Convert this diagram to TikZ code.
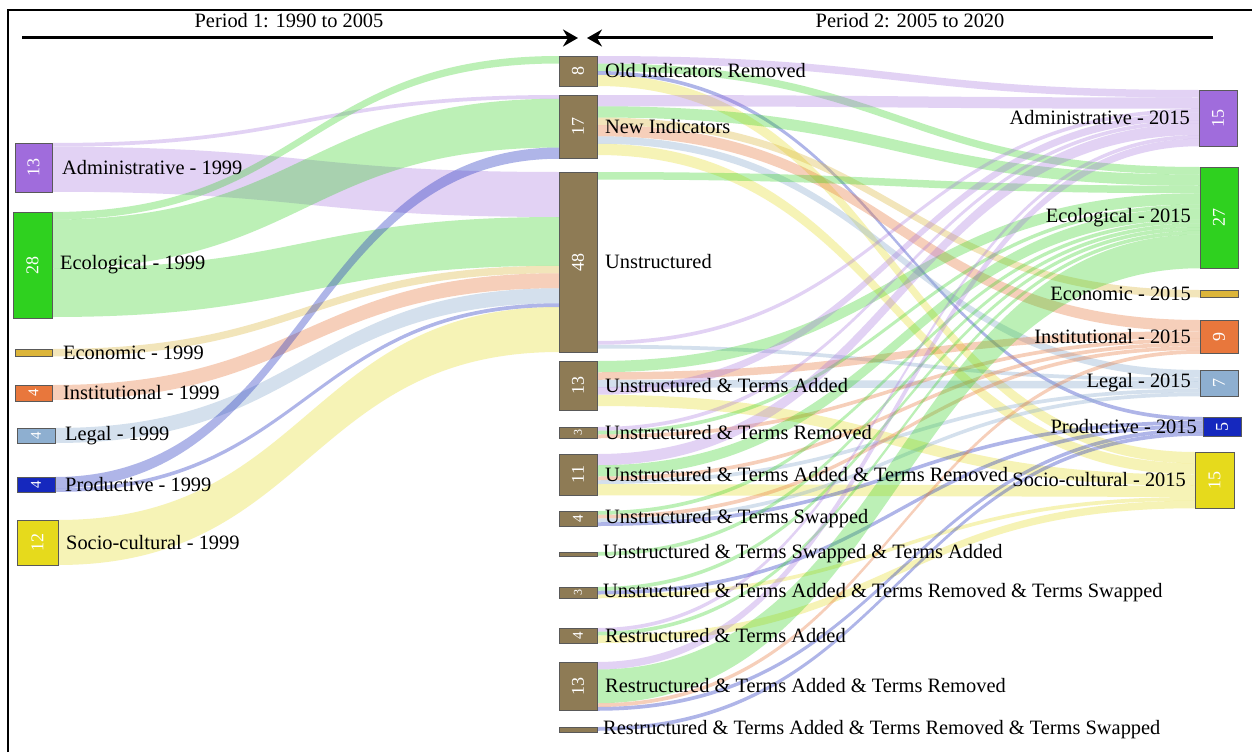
\documentclass[tikz,border=0pt]{standalone}
\usepackage{fontspec}
\setmainfont{Liberation Serif}
\usetikzlibrary{arrows.meta}
\definecolor{cadm}{HTML}{A06CDC}
\definecolor{ceco}{HTML}{2FD11F}
\definecolor{cecn}{HTML}{DCB53A}
\definecolor{cins}{HTML}{E8773C}
\definecolor{cleg}{HTML}{8EAFD0}
\definecolor{cpro}{HTML}{1528BE}
\definecolor{csoc}{HTML}{E6DA1C}
\definecolor{cmid}{HTML}{8E7B55}
\tikzset{
  sbox/.style={draw=black!65, line width=0.8pt, inner sep=0pt, outer sep=0pt, anchor=north west},
  lbl/.style={font=\fontsize{20.4}{22}\selectfont, inner sep=0pt, text=black},
  num/.style={font=\fontsize{18}{19}\selectfont, text=white, rotate=90, inner sep=0pt},
  snum/.style={num, font=\fontsize{15}{16}\selectfont},
  fadm/.style={fill=cadm, fill opacity=0.30},
  feco/.style={fill=ceco, fill opacity=0.32},
  fecn/.style={fill=cecn, fill opacity=0.35},
  fins/.style={fill=cins, fill opacity=0.35},
  fleg/.style={fill=cleg, fill opacity=0.38},
  fpro/.style={fill=cpro, fill opacity=0.34},
  fsoc/.style={fill=csoc, fill opacity=0.32},
  parrow/.style={line width=3pt, -{Stealth[length=15pt,width=17pt,inset=5pt]}}
}
% flow band: style, x1, y1, x2, y2, units
\newcommand{\fl}[6]{%
  \fill[#1] (#2,#3) .. controls ({(#2+#4)/2},#3) and ({(#2+#4)/2},#5) .. (#4,#5)
    -- (#4,{#5+#6*3.75}) .. controls ({(#2+#4)/2},{#5+#6*3.75}) and ({(#2+#4)/2},{#3+#6*3.75}) .. (#2,{#3+#6*3.75}) -- cycle;}
% node box: name, color, x, y, w, h
\newcommand{\bx}[6]{\node[sbox, fill=#2, minimum width=#5pt, minimum height=#6pt] (#1) at (#3,#4) {};}
\begin{document}
\begin{tikzpicture}[x=1pt,y=-1pt]
\useasboundingbox (0,0) rectangle (1252,752);
\fill[white] (0,0) rectangle (1252,752);
% frame
\draw[line width=1.5pt] (8,752) -- (8,10) -- (1252,10);
% period arrows
\coordinate (p1s) at (22,38);
\coordinate (p1e) at (578,38);
\coordinate (p2s) at (1213,38);
\coordinate (p2e) at (587,38);
\draw[parrow] (p1s) -- (p1e);
\draw[parrow] (p2s) -- (p2e);
\node[lbl] (t1) at (289,21) {Period 1: 1990 to 2005};
\node[lbl] (t2) at (910,21) {Period 2: 2005 to 2020};

% ---------- Period 1 flows ----------
\fl{fadm}{52}{143}{559}{95}{1}
\fl{fadm}{52}{146.75}{559}{172}{12}
\fl{feco}{52}{212}{559}{56}{2}
\fl{feco}{52}{219.5}{559}{98.75}{13}
\fl{feco}{52}{268.25}{559}{217}{13}
\fl{fecn}{52}{349}{559}{265.75}{2}
\fl{fins}{52}{385}{559}{273.25}{4}
\fl{fleg}{55}{428}{559}{288.25}{4}
\fl{fpro}{55}{477}{559}{147.5}{3}
\fl{fpro}{55}{488.25}{559}{303.25}{1}
\fl{fsoc}{58}{520}{559}{307}{12}

% ---------- Period 2 flows ----------
% Old Indicators Removed
\fl{fadm}{597}{56}{1199}{90}{2}
\fl{feco}{597}{63.5}{1200}{167}{2}
\fl{fpro}{597}{71}{1203}{417}{1}
\fl{fsoc}{597}{74.75}{1195}{452}{3}
% New Indicators
\fl{fadm}{597}{95}{1199}{97.5}{3}
\fl{feco}{597}{106.25}{1200}{174.5}{3}
\fl{fecn}{597}{117.5}{1200}{290}{2}
\fl{fins}{597}{125}{1200}{320}{3}
\fl{fleg}{597}{136.25}{1200}{370}{2}
\fl{fsoc}{597}{143.75}{1195}{463.25}{3}
% Unstructured
\fl{feco}{597}{172}{1200}{185.75}{2}
\fl{fadm}{597}{341}{1199}{108.75}{1}
\fl{fleg}{597}{344.75}{1200}{377.5}{1}
% Unstructured & Terms Added
\fl{feco}{597}{361}{1200}{193.25}{3}
\fl{fins}{597}{372.25}{1200}{331.25}{2}
\fl{fleg}{597}{379.75}{1200}{381.25}{2}
\fl{fadm}{597}{387.25}{1199}{112.5}{2}
\fl{fsoc}{597}{394.75}{1195}{474.5}{3}
% Unstructured & Terms Removed
\fl{fadm}{597}{427}{1199}{120}{1}
\fl{feco}{597}{430.75}{1200}{204.5}{1}
\fl{fins}{597}{434.5}{1200}{338.75}{1}
% Unstructured & Terms Added & Terms Removed
\fl{fadm}{597}{454}{1199}{123.75}{3}
\fl{feco}{597}{465.25}{1200}{208.25}{3}
\fl{fins}{597}{476.5}{1200}{342.5}{1}
\fl{fleg}{597}{480.25}{1200}{388.75}{1}
\fl{fsoc}{597}{484}{1195}{485.75}{3}
% Unstructured & Terms Swapped
\fl{feco}{597}{511}{1200}{219.5}{1}
\fl{fins}{597}{514.75}{1200}{346.25}{1}
\fl{fleg}{597}{518.5}{1200}{392.5}{1}
\fl{fpro}{597}{522.25}{1203}{420.75}{1}
% Unstructured & Terms Swapped & Terms Added
\fl{feco}{597}{552}{1200}{223.25}{1}
% Unstructured & Terms Added & Terms Removed & Terms Swapped
\fl{feco}{597}{587}{1200}{227}{1}
\fl{fpro}{597}{590.75}{1203}{424.5}{1}
\fl{fsoc}{597}{594.5}{1195}{497}{1}
% Restructured & Terms Added
\fl{fadm}{597}{628}{1199}{135}{1}
\fl{feco}{597}{631.75}{1200}{230.75}{1}
\fl{fsoc}{597}{635.5}{1195}{500.75}{2}
% Restructured & Terms Added & Terms Removed
\fl{fadm}{597}{662}{1199}{138.75}{2}
\fl{feco}{597}{669.5}{1200}{234.5}{9}
\fl{fins}{597}{703.25}{1200}{350}{1}
\fl{fpro}{597}{707}{1203}{428.25}{1}
% Restructured & Terms Added & Terms Removed & Terms Swapped
\fl{fpro}{597}{727}{1203}{432}{1}

% ---------- nodes: 1999 ----------
\bx{adm99}{cadm}{15}{143}{37}{49}
\bx{eco99}{ceco}{13}{212}{39}{106}
\bx{ecn99}{cecn}{15}{349}{37}{7}
\bx{ins99}{cins}{15}{385}{37}{16}
\bx{leg99}{cleg}{17}{428}{38}{15}
\bx{pro99}{cpro}{17}{477}{38}{15}
\bx{soc99}{csoc}{17}{520}{41}{45}
% ---------- nodes: middle ----------
\bx{oldi}{cmid}{559}{56}{38}{30}
\bx{newi}{cmid}{559}{95}{38}{63}
\bx{unst}{cmid}{559}{172}{38}{180}
\bx{uta}{cmid}{559}{361}{38}{49}
\bx{utr}{cmid}{559}{427}{38}{11}
\bx{utatr}{cmid}{559}{454}{38}{41}
\bx{uts}{cmid}{559}{511}{38}{15}
\bx{utsta}{cmid}{559}{552}{38}{4}
\bx{utatrts}{cmid}{559}{587}{38}{11}
\bx{rta}{cmid}{559}{628}{38}{15}
\bx{rtatr}{cmid}{559}{662}{38}{48}
\bx{rtatrts}{cmid}{559}{727}{38}{5}
% ---------- nodes: 2015 ----------
\bx{adm15}{cadm}{1199}{90}{38}{56}
\bx{eco15}{ceco}{1200}{167}{38}{101}
\bx{ecn15}{cecn}{1200}{290}{38}{7}
\bx{ins15}{cins}{1200}{320}{38}{33}
\bx{leg15}{cleg}{1200}{370}{38}{26}
\bx{pro15}{cpro}{1203}{417}{38}{19}
\bx{soc15}{csoc}{1195}{452}{39}{56}

% ---------- numbers ----------
\node[num] at (adm99.center) {13};
\node[num] at (eco99.center) {28};
\node[snum] at (ins99.center) {4};
\node[snum] at (leg99.center) {4};
\node[snum] at (pro99.center) {4};
\node[num] at (soc99.center) {12};
\node[num] at (oldi.center) {8};
\node[num] at (newi.center) {17};
\node[num] at (unst.center) {48};
\node[num] at (uta.center) {13};
\node[snum, font=\fontsize{12}{13}\selectfont] at (utr.center) {3};
\node[num] at (utatr.center) {11};
\node[snum] at (uts.center) {4};
\node[snum, font=\fontsize{12}{13}\selectfont] at (utatrts.center) {3};
\node[snum] at (rta.center) {4};
\node[num] at (rtatr.center) {13};
\node[num] at (adm15.center) {15};
\node[num] at (eco15.center) {27};
\node[num] at (ins15.center) {9};
\node[num] at (leg15.center) {7};
\node[num] at (pro15.center) {5};
\node[num] at (soc15.center) {15};

% ---------- labels ----------
\node[lbl, anchor=west] at ([xshift=10pt]adm99.east) {Administrative - 1999};
\node[lbl, anchor=west] at ([xshift=8pt]eco99.east) {Ecological - 1999};
\node[lbl, anchor=west] at ([xshift=11pt]ecn99.east) {Economic - 1999};
\node[lbl, anchor=west] at ([xshift=11pt]ins99.east) {Institutional - 1999};
\node[lbl, anchor=west] at ([xshift=10pt]leg99.east) {Legal - 1999};
\node[lbl, anchor=west] at ([xshift=10pt]pro99.east) {Productive - 1999};
\node[lbl, anchor=west] at ([xshift=8pt]soc99.east) {Socio-cultural - 1999};

\node[lbl, anchor=west] at ([xshift=8pt]oldi.east) {Old Indicators Removed};
\node[lbl, anchor=west] at ([xshift=8pt]newi.east) {New Indicators};
\node[lbl, anchor=west] at ([xshift=8pt]unst.east) {Unstructured};
\node[lbl, anchor=west] at ([xshift=8pt]uta.east) {Unstructured \& Terms Added};
\node[lbl, anchor=west] at ([xshift=8pt]utr.east) {Unstructured \& Terms Removed};
\node[lbl, anchor=west] at ([xshift=8pt]utatr.east) {Unstructured \& Terms Added \& Terms Removed};
\node[lbl, anchor=west] at ([xshift=8pt]uts.east) {Unstructured \& Terms Swapped};
\node[lbl, anchor=west] at ([xshift=6pt]utsta.east) {Unstructured \& Terms Swapped \& Terms Added};
\node[lbl, anchor=west] at ([xshift=6pt]utatrts.east) {Unstructured \& Terms Added \& Terms Removed \& Terms Swapped};
\node[lbl, anchor=west] at ([xshift=8pt]rta.east) {Restructured \& Terms Added};
\node[lbl, anchor=west] at ([xshift=8pt]rtatr.east) {Restructured \& Terms Added \& Terms Removed};
\node[lbl, anchor=west] at ([xshift=6pt]rtatrts.east) {Restructured \& Terms Added \& Terms Removed \& Terms Swapped};

\node[lbl, anchor=east] at ([xshift=-9pt]adm15.west) {Administrative - 2015};
\node[lbl, anchor=east] at ([xshift=-9pt]eco15.west) {Ecological - 2015};
\node[lbl, anchor=east] at ([xshift=-9pt]ecn15.west) {Economic - 2015};
\node[lbl, anchor=east] at ([xshift=-9pt]ins15.west) {Institutional - 2015};
\node[lbl, anchor=east] at ([xshift=-9pt]leg15.west) {Legal - 2015};
\node[lbl, anchor=east] at ([xshift=-6pt]pro15.west) {Productive - 2015};
\node[lbl, anchor=east] at ([xshift=-9pt]soc15.west) {Socio-cultural - 2015};
\end{tikzpicture}
\end{document}
